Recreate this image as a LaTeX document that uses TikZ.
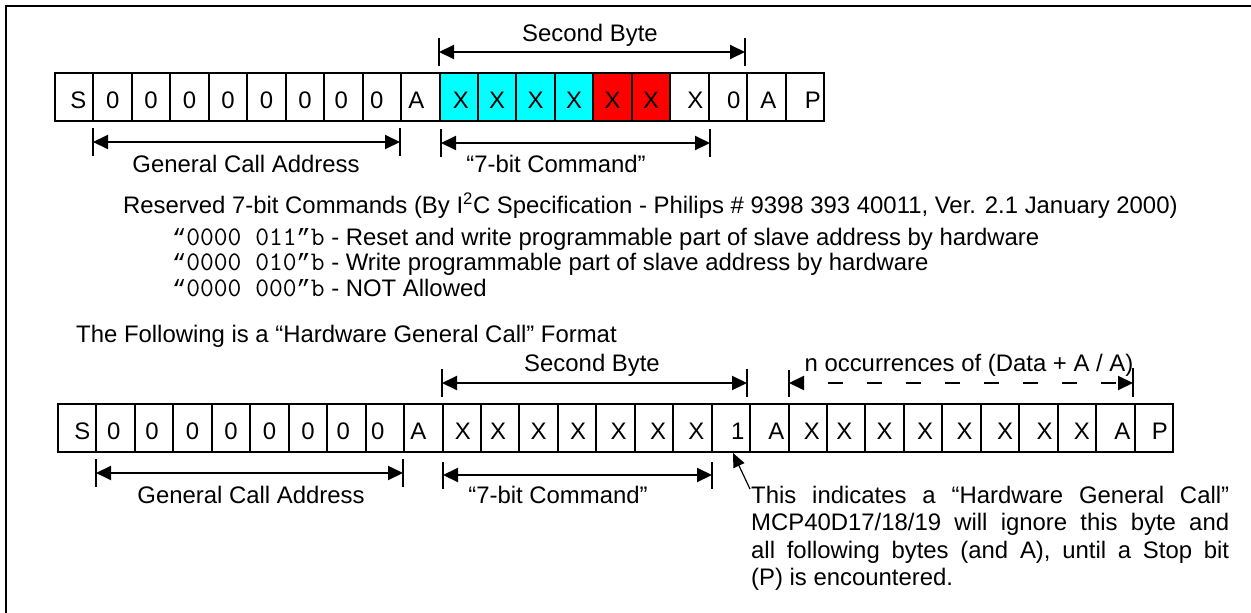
\documentclass[tikz,border=0pt]{standalone}
\usepackage{fontspec}
\setmainfont{Liberation Sans}
\newfontfamily\qmono{Liberation Mono}
\usetikzlibrary{arrows.meta}
\definecolor{cy}{RGB}{0,255,255}
\definecolor{rd}{RGB}{255,0,0}
\newcommand\myfs{\fontsize{23.9}{27.3}\selectfont}
\newcommand\mymono[1]{{\ttfamily\fontsize{26.8}{27.3}\selectfont #1}}
\newcommand\mq[1]{{\qmono\fontsize{23.5}{27.3}\selectfont #1}}
\begin{document}
\begin{tikzpicture}[x=1pt,y=-1pt,
  txt/.style={font=\myfs,inner sep=0pt,text height=17pt,text depth=0pt},
  cell/.style={draw,line width=2pt,minimum width=38.45pt,minimum height=48pt,anchor=north west,inner sep=0pt},
  tick/.style={line width=2pt},
  dim/.style={line width=2pt,{Triangle[length=15pt,width=14pt]}-{Triangle[length=15pt,width=14pt]}},
  ptr/.style={line width=1.2pt,-{Triangle[length=14pt,width=12pt]}},
  frame/.style={line width=2.5pt}]
\useasboundingbox (0,0) rectangle (1251,613);
% frame
\coordinate (fa) at (6,613);
\coordinate (fb) at (6,6);
\coordinate (fc) at (1251,6);
\draw[frame] (fa) -- (fb) -- (fc);

% ---------- top row ----------
\foreach \t/\o/\c [count=\i from 0] in {S/4/white,0/0/white,0/0/white,0/0/white,0/0/white,0/0/white,0/0/white,0/-2/white,0/-5/white,A/-4/white,X/2/cy,X/0/cy,X/0/cy,X/0/cy,X/0/rd,X/0/rd,X/6/white,0/6/white,A/2/white,P/8/white}{
  \node[cell,fill=\c] (t\i) at ({54+38.45*\i},72) {};
  \node[txt] (tl\i) at ([xshift=\o pt,yshift=-3pt]t\i.center) {\t};
}
% top: Second Byte
\coordinate (sbL) at (439,52);
\coordinate (sbR) at (745,52);
\draw[tick] ([yshift=14pt]sbL) -- ([yshift=-14pt]sbL);
\draw[tick] ([yshift=14pt]sbR) -- ([yshift=-14pt]sbR);
\draw[dim] (sbL) -- (sbR);
\node[txt] (sbT) at (590,33) {Second Byte};
% top: General Call Address
\coordinate (gaL) at (93,142);
\coordinate (gaR) at (400,142);
\draw[tick] ([yshift=14pt]gaL) -- ([yshift=-14pt]gaL);
\draw[tick] ([yshift=14pt]gaR) -- ([yshift=-14pt]gaR);
\draw[dim] (gaL) -- (gaR);
\node[txt] (gaT) at (246,164) {General Call Address};
% top: 7-bit Command
\coordinate (cmL) at (441,143);
\coordinate (cmR) at (710,143);
\draw[tick] ([yshift=14pt]cmL) -- ([yshift=-14pt]cmL);
\draw[tick] ([yshift=14pt]cmR) -- ([yshift=-14pt]cmR);
\draw[dim] (cmL) -- (cmR);
\node[txt] (cmT) at (556,164) {“7-bit Command”};

% ---------- reserved commands ----------
\node[txt,anchor=west] (res) at (123,205) {Reserved 7-bit Commands (By I\textsuperscript{2}C Specification - Philips \# 9398 393 40011, Ver. 2.1 January 2000)};
\node[txt,anchor=west] (r1) at (172,237) {\mq{“}\mymono{0000 011}\mq{”}\mymono{b} - Reset and write programmable part of slave address by hardware};
\node[txt,anchor=west] (r2) at (172,262) {\mq{“}\mymono{0000 010}\mq{”}\mymono{b} - Write programmable part of slave address by hardware};
\node[txt,anchor=west] (r3) at (172,288) {\mq{“}\mymono{0000 000}\mq{”}\mymono{b} - NOT Allowed};
\node[txt,anchor=west] (fol) at (76,334) {The Following is a “Hardware General Call” Format};

% ---------- bottom row ----------
\foreach \t/\o [count=\i from 0] in {S/5,0/-2,0/-2,0/0,0/0,0/0,0/0,0/-3,0/-7,A/-5,X/1,X/-2,X/0,X/1,X/3,X/4,X/4,1/7,A/7,X/4,X/-2,X/0,X/2,X/3,X/5,X/6,X/5,A/7,P/6}{
  \node[cell] (b\i) at ({57+38.45*\i},403) {};
  \node[txt] (bl\i) at ([xshift=\o pt,yshift=-3pt]b\i.center) {\t};
}
% bottom: Second Byte
\coordinate (bsL) at (442,383);
\coordinate (bsR) at (747,383);
\draw[tick] ([yshift=14pt]bsL) -- ([yshift=-14pt]bsL);
\draw[tick] ([yshift=14pt]bsR) -- ([yshift=-14pt]bsR);
\draw[dim] (bsL) -- (bsR);
\node[txt] (bsT) at (592,363) {Second Byte};
% bottom: n occurrences
\coordinate (noL) at (789,383);
\coordinate (noR) at (1133,383);
\draw[tick] ([yshift=13pt]noL) -- ([yshift=-14pt]noL);
\draw[tick] ([yshift=15pt]noR) -- ([yshift=-14pt]noR);
\draw[dim,dash pattern=on 15pt off 24pt,dash phase=15pt] (noL) -- (noR);
\node[txt] (noT) at (969,363) {n occurrences of (Data + A / A)};
% bottom: General Call Address
\coordinate (bgL) at (96,473);
\coordinate (bgR) at (403,473);
\draw[tick] ([yshift=14pt]bgL) -- ([yshift=-14pt]bgL);
\draw[tick] ([yshift=14pt]bgR) -- ([yshift=-14pt]bgR);
\draw[dim] (bgL) -- (bgR);
\node[txt] (bgT) at (251,495) {General Call Address};
% bottom: 7-bit Command
\coordinate (bcL) at (443,475);
\coordinate (bcR) at (712,475);
\draw[tick] ([yshift=13pt]bcL) -- ([yshift=-14pt]bcL);
\draw[tick] ([yshift=13pt]bcR) -- ([yshift=-14pt]bcR);
\draw[dim] (bcL) -- (bcR);
\node[txt] (bcT) at (558,495) {“7-bit Command”};

% ---------- explanation ----------
\node[font=\myfs,inner sep=0pt,anchor=north west,text width=478pt,align=justify] (para) at (751,486)
  {\noindent This indicates a “Hardware General Call”\linebreak
   MCP40D17/18/19 will ignore this byte and\linebreak
   all following bytes (and A), until a Stop bit\linebreak
   (P) is encountered.};
\coordinate (pstart) at (750,489);
\coordinate (ptip) at (733,453);
\draw[ptr] (pstart) -- (ptip);
\end{tikzpicture}
\end{document}
